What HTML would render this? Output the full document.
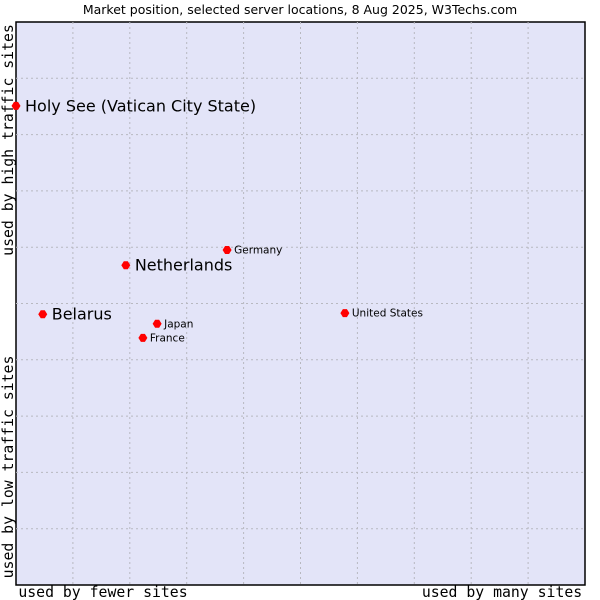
<!DOCTYPE html>
<html><head><meta charset="utf-8"><style>
body{margin:0;background:#fff;}
svg{display:block;font-family:"DejaVu Sans","Liberation Sans",sans-serif;}
</style></head><body>
<svg id="chart" width="600" height="600">
<text x="300" y="14" text-anchor="middle" font-size="12.5" fill="#000">Market position, selected server locations, 8 Aug 2025, W3Techs.com</text>
<rect x="16" y="22" width="569" height="563" fill="#e3e4f8" stroke="#000" stroke-width="1.5"/>
<g id="grid"></g>
<g id="points"></g>
<text x="103" y="597" text-anchor="middle" font-family="'DejaVu Sans Mono','Liberation Mono',monospace" font-size="14.8">used by fewer sites</text>
<text x="502" y="597" text-anchor="middle" font-family="'DejaVu Sans Mono','Liberation Mono',monospace" font-size="14.8">used by many sites</text>
<text transform="translate(13,140) rotate(-90)" text-anchor="middle" font-family="'DejaVu Sans Mono','Liberation Mono',monospace" font-size="14.8">used by high traffic sites</text>
<text transform="translate(13,467) rotate(-90)" text-anchor="middle" font-family="'DejaVu Sans Mono','Liberation Mono',monospace" font-size="14.8">used by low traffic sites</text>
</svg>
<script>
const names = ["Holy See (Vatican City State)","Netherlands","Belarus","Germany","United States","Japan","France"];
const xValues = [0, 19.3, 4.7, 37.1, 57.8, 24.8, 22.3];
const yValues = [85.1, 56.8, 48.1, 59.5, 48.3, 46.4, 43.9];
const highlighted = [true, true, true, false, false, false, false];
const gridTicks = [10,20,30,40,50,60,70,80,90];

const L=16,T=22,W=569,H=563;
function xs(v){return L+v/100*W;}
function ys(v){return T+H-v/100*H;}
const NS="http://www.w3.org/2000/svg";
const grid=document.getElementById('grid');
gridTicks.forEach(t=>{
  const v=document.createElementNS(NS,'line');
  v.setAttribute('x1',xs(t));v.setAttribute('x2',xs(t));v.setAttribute('y1',T);v.setAttribute('y2',T+H);
  v.setAttribute('stroke','#b8b8c0');v.setAttribute('stroke-dasharray','2,3');
  
  
  grid.appendChild(v);
  const h=document.createElementNS(NS,'line');
  h.setAttribute('y1',ys(t));h.setAttribute('y2',ys(t));h.setAttribute('x1',L);h.setAttribute('x2',L+W);
  h.setAttribute('stroke','#b8b8c0');h.setAttribute('stroke-dasharray','2,3');
  
  
  grid.appendChild(h);
});
const pts=document.getElementById('points');
names.forEach((n,i)=>{
  const cx=xs(xValues[i]),cy=ys(yValues[i]);
  const d=document.createElementNS(NS,'path');
  d.setAttribute('d',`M${cx-4.5},${cy}L${cx-2},${cy-4}L${cx+2},${cy-4}L${cx+4.5},${cy}L${cx+2},${cy+4}L${cx-2},${cy+4}Z`);
  d.setAttribute('fill','#ff0000');
  
  
  pts.appendChild(d);
  const t=document.createElementNS(NS,'text');
  const big=highlighted[i];
  t.setAttribute('x',cx+(big?9:7));t.setAttribute('y',cy+(big?5.5:3.5));
  t.setAttribute('font-size',big?16:10.5);
  t.textContent=n;
  
  
  pts.appendChild(t);
});
</script>
</body></html>
